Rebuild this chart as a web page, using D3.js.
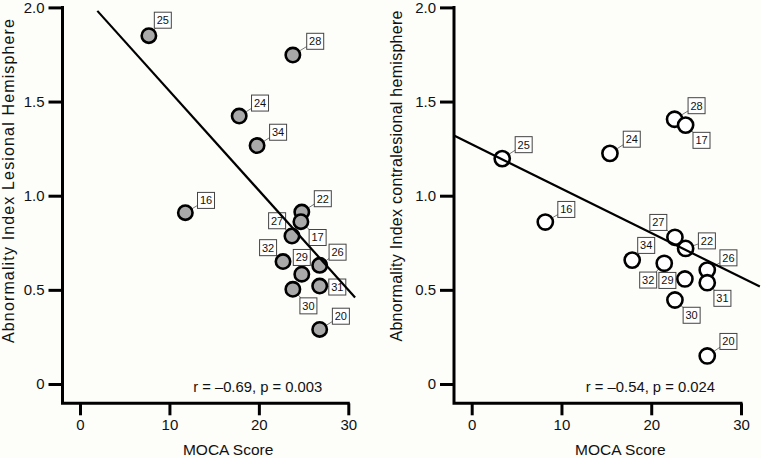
<!DOCTYPE html>
<html>
<head>
<meta charset="utf-8">
<script src="https://cdn.jsdelivr.net/npm/d3@7/dist/d3.min.js"></script>
<style>
  html, body { margin: 0; padding: 0; background: #fdfdf9; }
  svg { display: block; font-family: "Liberation Sans", Arial, Helvetica, sans-serif; }
</style>
</head>
<body>
<svg id="chart" width="761" height="458"></svg>
<script>
// ---------- data ----------
const ids = ["25","28","24","34","16","22","17","27","32","29","26","31","30","20"];

// Left panel: lesional hemisphere
const mocaLeft = [7.7, 23.8, 17.8, 19.8, 11.78, 24.8, 24.7, 23.7, 22.7, 24.8, 26.8, 26.8, 23.8, 26.8];
const abnLeft  = [1.85, 1.747, 1.423, 1.266, 0.91, 0.913, 0.862, 0.786, 0.65, 0.583, 0.63, 0.52, 0.503, 0.29];
const labelXLeft = [9.26, 26.3, 20.13, 22.15, 14.09, 27.15, 26.57, 22.04, 21.03, 24.8, 28.8, 28.77, 25.54, 29.17];
const labelYLeft = [1.932, 1.820, 1.492, 1.337, 0.975, 0.984, 0.778, 0.867, 0.724, 0.672, 0.700, 0.515, 0.415, 0.360];
const fitLeft = { intercept: 2.084, slope: -0.0528, x0: 1.94, x1: 30.76 };
const statLeft = "r = \u20130.69, p = 0.003";
const yTitleLeft = "Abnormality Index Lesional Hemisphere";

// Right panel: contralesional hemisphere
const mocaRight = [3.4, 22.6, 15.4, 17.88, 8.2, 23.83, 23.83, 22.64, 21.45, 23.75, 26.24, 26.24, 22.64, 26.24];
const abnRight  = [1.197, 1.406, 1.225, 0.658, 0.86, 0.72, 1.375, 0.779, 0.641, 0.558, 0.605, 0.538, 0.446, 0.149];
const labelXRight = [5.79, 25.05, 17.83, 19.44, 10.54, 26.2, 25.6, 20.79, 19.66, 21.8, 28.6, 27.93, 24.5, 28.6];
const labelYRight = [1.271, 1.478, 1.300, 0.736, 0.927, 0.760, 1.294, 0.858, 0.552, 0.550, 0.670, 0.455, 0.365, 0.226];
const fitRight = { intercept: 1.273, slope: -0.02354, x0: -1.97, x1: 32.1 };
const statRight = "r = \u20130.54, p = 0.024";
const yTitleRight = "Abnormality Index contralesional hemisphere";

const xTicks = [0, 10, 20, 30];
const yTicks = [0, 0.5, 1.0, 1.5, 2.0];
const yTickLabels = ["0", "0.5", "1.0", "1.5", "2.0"];
const xTitle = "MOCA Score";

// ---------- drawing ----------
const svg = d3.select("#chart");

function panel(cfg) {
  const g = svg.append("g");
  const x = d3.scaleLinear().domain([0, 30]).range(cfg.xRange);
  const y = d3.scaleLinear().domain([0, 2]).range([384, 7.4]);
  const axisX = cfg.axisX, axisY = 403.3;

  // x axis
  const gx = g.append("g").attr("transform", `translate(0,${axisY})`)
    .call(d3.axisBottom(x).tickValues(xTicks).tickSize(12).tickSizeOuter(0).tickPadding(4)
      .tickFormat(d3.format("d")));
  gx.select(".domain").remove();
  gx.selectAll(".tick line").attr("stroke", "#000").attr("stroke-width", 3);
  gx.selectAll(".tick text").attr("font-size", 15).attr("fill", "#111")
    .attr("font-family", "'Liberation Sans', Arial, sans-serif");

  // y axis
  const gy = g.append("g").attr("transform", `translate(${axisX},0)`)
    .call(d3.axisLeft(y).tickValues(yTicks).tickSize(14).tickSizeOuter(0).tickPadding(4)
      .tickFormat((d, i) => yTickLabels[i]));
  gy.select(".domain").remove();
  gy.selectAll(".tick line").attr("stroke", "#000").attr("stroke-width", 3);
  gy.selectAll(".tick text").attr("font-size", 15).attr("fill", "#111")
    .attr("font-family", "'Liberation Sans', Arial, sans-serif");

  // axis lines
  g.append("path")
    .attr("d", `M${axisX},${y(2)}V${axisY}H${x(30)}`)
    .attr("fill", "none").attr("stroke", "#000").attr("stroke-width", 3)
    .attr("stroke-linejoin", "miter").attr("stroke-linecap", "square");

  // titles
  g.append("text")
    .attr("x", (x(0) + x(30)) / 2 + 14).attr("y", 455)
    .attr("text-anchor", "middle").attr("font-size", 15.5).attr("fill", "#111")
    .text(xTitle);
  g.append("text")
    .attr("transform", `translate(${cfg.yTitleX},${cfg.yTitleY}) rotate(-90)`)
    .attr("text-anchor", "middle").attr("font-size", 16).attr("fill", "#111")
    .attr("textLength", cfg.yTitleLen).attr("lengthAdjust", "spacing")
    .text(cfg.yTitle);

  // stat text
  g.append("text")
    .attr("x", x(30) - 26).attr("y", 392)
    .attr("text-anchor", "end").attr("font-size", 14.8).attr("fill", "#111")
    .text(cfg.stat);

  const pts = ids.map((id, i) => ({
    id, mx: cfg.mx[i], ab: cfg.ab[i], lx: cfg.lx[i], ly: cfg.ly[i]
  }));

  // leader lines
  g.append("g").selectAll("line").data(pts).join("line")
    .attr("x1", d => x(d.mx)).attr("y1", d => y(d.ab))
    .attr("x2", d => x(d.lx)).attr("y2", d => y(d.ly))
    .attr("stroke", "#777").attr("stroke-width", 1);

  // points
  g.append("g").selectAll("circle").data(pts).join("circle")
    .attr("cx", d => x(d.mx)).attr("cy", d => y(d.ab))
    .attr("r", cfg.r)
    .attr("fill", cfg.fill).attr("stroke", "#000").attr("stroke-width", 2.6);

  // label boxes
  const lab = g.append("g").selectAll("g").data(pts).join("g")
    .attr("transform", d => `translate(${x(d.lx)},${y(d.ly)})`);
  lab.append("rect")
    .attr("x", -8.5).attr("y", -8).attr("width", 17).attr("height", 16)
    .attr("fill", "#fff").attr("stroke", "#444").attr("stroke-width", 1);
  lab.append("text")
    .attr("text-anchor", "middle").attr("dy", "0.36em")
    .attr("font-size", 11).attr("fill", "#111")
    .text(d => d.id);

  // regression line
  const f = cfg.fit;
  g.append("line")
    .attr("x1", x(f.x0)).attr("y1", y(f.intercept + f.slope * f.x0))
    .attr("x2", x(f.x1)).attr("y2", y(f.intercept + f.slope * f.x1))
    .attr("stroke", "#000").attr("stroke-width", 2.2);
}

panel({
  xRange: [80, 348.3], axisX: 62.5,
  mx: mocaLeft, ab: abnLeft, lx: labelXLeft, ly: labelYLeft,
  fit: fitLeft, stat: statLeft, yTitle: yTitleLeft, yTitleLen: 324,
  yTitleX: 14, yTitleY: 181, fill: "#a9a9a9", r: 7.2
});
panel({
  xRange: [471.7, 741], axisX: 454,
  mx: mocaRight, ab: abnRight, lx: labelXRight, ly: labelYRight,
  fit: fitRight, stat: statRight, yTitle: yTitleRight, yTitleLen: 331,
  yTitleX: 402, yTitleY: 176, fill: "#fff", r: 7.6
});
</script>
</body>
</html>
